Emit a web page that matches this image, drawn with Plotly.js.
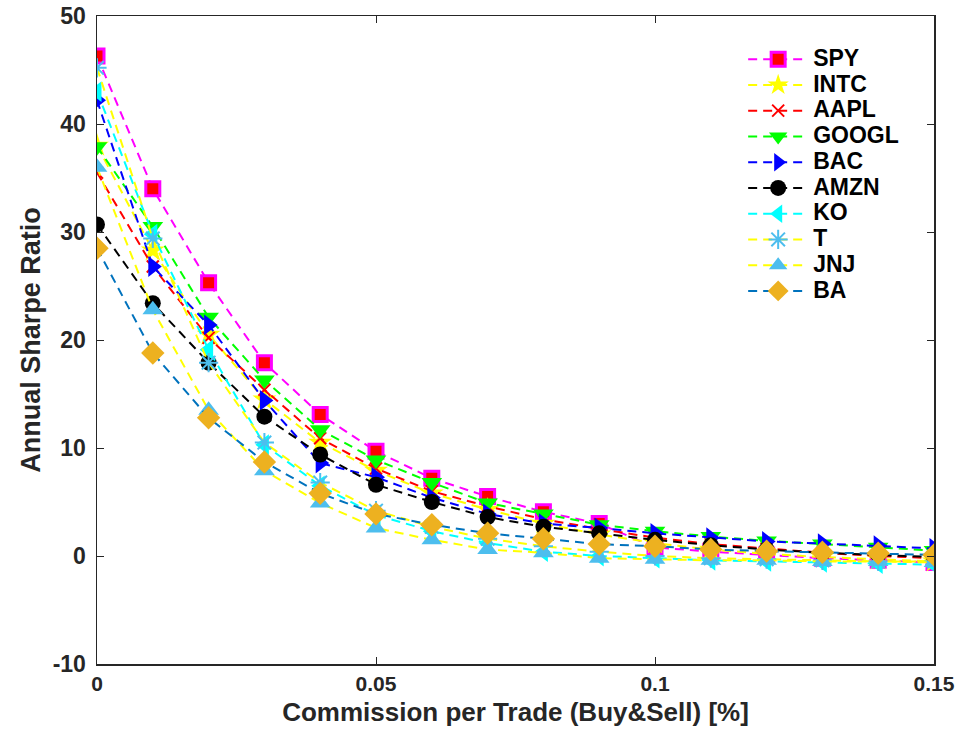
<!DOCTYPE html>
<html>
<head>
<meta charset="utf-8">
<script src="https://cdn.plot.ly/plotly-3.0.1.min.js"></script>
<style>html,body{margin:0;padding:0;background:#fff;}#chart{width:957px;height:737px;}</style>
</head>
<body>
<div id="chart"></div>
<script>
var commission = [0, 0.01, 0.02, 0.03, 0.04, 0.05, 0.06, 0.07, 0.08, 0.09, 0.10, 0.11, 0.12, 0.13, 0.14, 0.15];
var xTickVals = [0, 0.05, 0.1, 0.15];
var xTickText = ['0', '0.05', '0.1', '0.15'];
var yTickVals = [-10, 0, 10, 20, 30, 40, 50];
var yTickText = ['-10', '0', '10', '20', '30', '40', '50'];

var SPY   = [46.3, 34.0, 25.3, 17.9, 13.1, 9.7, 7.2, 5.5, 4.1, 3.0, 0.8, 0.4, 0.1, -0.2, -0.4, -0.6];
var INTC  = [38.0, 28.3, 20.5, 14.5, 10.5, 7.9, 5.8, 4.3, 3.0, 2.0, 1.2, 0.6, 0.2, -0.1, -0.3, -0.5];
var AAPL  = [35.5, 26.8, 20.2, 15.4, 10.9, 8.1, 6.0, 4.6, 3.4, 2.5, 1.7, 1.1, 0.7, 0.3, 0.0, -0.2];
var GOOGL = [37.9, 30.5, 22.1, 16.3, 11.7, 8.9, 6.8, 4.9, 3.9, 2.9, 2.3, 1.8, 1.4, 1.1, 0.8, 0.5];
var BAC   = [42.2, 26.8, 21.4, 14.4, 8.6, 7.3, 5.4, 3.9, 3.0, 2.6, 2.1, 1.7, 1.35, 1.15, 0.95, 0.7];
var AMZN  = [30.7, 23.4, 17.9, 12.9, 9.4, 6.6, 5.0, 3.6, 2.7, 2.1, 1.5, 1.0, 0.6, 0.3, 0.1, -0.1];
var KO    = [43.0, 29.8, 19.1, 10.3, 6.5, 3.8, 2.3, 1.2, 0.4, 0.0, -0.2, -0.4, -0.5, -0.6, -0.7, -0.8];
var T     = [45.2, 29.4, 17.9, 10.5, 6.8, 4.2, 2.7, 1.6, 0.9, 0.4, 0.0, -0.2, -0.3, -0.4, -0.5, -0.5];
var JNJ   = [36.0, 22.8, 13.5, 7.9, 4.9, 2.6, 1.5, 0.6, 0.3, -0.2, -0.3, -0.4, -0.4, -0.5, -0.5, -0.6];
var BA    = [28.5, 18.8, 12.8, 8.7, 5.8, 3.9, 2.9, 2.1, 1.6, 1.1, 0.9, 0.6, 0.45, 0.35, 0.25, 0.1];

var seriesNames = ['SPY', 'INTC', 'AAPL', 'GOOGL', 'BAC', 'AMZN', 'KO', 'T', 'JNJ', 'BA'];
var seriesData = [SPY, INTC, AAPL, GOOGL, BAC, AMZN, KO, T, JNJ, BA];

var styles = [
  {line: '#ff00ff', marker: {symbol: 'square', size: 14, color: '#ff0000', line: {color: '#ff00ff', width: 3}}},
  {line: '#ffff00', marker: {symbol: 'star', size: 18, color: '#ffff00', line: {width: 0}}},
  {line: '#ff0000', marker: {symbol: 'x-thin-open', size: 12, color: '#ff0000', line: {color: '#ff0000', width: 2}}},
  {line: '#00ff00', marker: {symbol: 'triangle-down', size: 18, color: '#00ff00', line: {width: 0}}},
  {line: '#0000ff', marker: {symbol: 'triangle-right', size: 18, color: '#0000ff', line: {width: 0}}},
  {line: '#000000', marker: {symbol: 'circle', size: 16, color: '#000000', line: {width: 0}}},
  {line: '#00ffff', marker: {symbol: 'triangle-left', size: 18, color: '#00ffff', line: {width: 0}}},
  {line: '#ffff00', marker: {symbol: 'asterisk-open', size: 16, color: '#4dbeee', line: {color: '#4dbeee', width: 2}}},
  {line: '#ffff00', marker: {symbol: 'triangle-up', size: 18, color: '#4dbeee', line: {width: 0}}},
  {line: '#0072bd', marker: {symbol: 'diamond', size: 18, color: '#edb120', line: {width: 0}}}
];

var traces = seriesNames.map(function (name, i) {
  return {
    type: 'scatter',
    mode: 'lines+markers',
    name: '<span style="font-size:23px">' + name + '</span>',
    x: commission,
    y: seriesData[i],
    line: {color: styles[i].line, width: 2, dash: '9px,6px'},
    marker: styles[i].marker
  };
});

var axisColor = '#262626';
var layout = {
  width: 957,
  height: 737,
  margin: {l: 97, r: 23, t: 16, b: 73},
  paper_bgcolor: '#ffffff',
  plot_bgcolor: '#ffffff',
  font: {family: 'Liberation Sans, Arial, sans-serif', color: axisColor},
  showlegend: true,
  legend: {
    x: 0.772, y: 0.961, xanchor: 'left', yanchor: 'top',
    bgcolor: 'rgba(255,255,255,0)', borderwidth: 0,
    font: {size: 17.5, color: '#000000', family: 'Liberation Sans, Arial, sans-serif', weight: 'bold'},
    itemwidth: 60,
    tracegroupgap: 0
  },
  xaxis: {
    range: [0, 0.15],
    tickvals: xTickVals,
    ticktext: xTickText,
    ticks: 'inside', ticklen: 7, tickwidth: 1, tickcolor: axisColor,
    showline: true, linecolor: axisColor, linewidth: 1.5, mirror: 'allticks',
    showgrid: false, zeroline: false,
    ticklabeloverflow: 'allow',
    tickfont: {size: 21, weight: 'bold', color: axisColor},
    title: {text: 'Commission per Trade (Buy&Sell) [%]', font: {size: 26, weight: 'bold', color: axisColor}, standoff: 9}
  },
  yaxis: {
    range: [-10, 50],
    tickvals: yTickVals,
    ticktext: yTickText,
    ticks: 'inside', ticklen: 7, tickwidth: 1, tickcolor: axisColor,
    showline: true, linecolor: axisColor, linewidth: 1.5, mirror: 'allticks',
    showgrid: false, zeroline: false,
    ticklabelstandoff: 5,
    tickfont: {size: 23, weight: 'bold', color: axisColor},
    title: {text: 'Annual Sharpe Ratio', font: {size: 27, weight: 'bold', color: axisColor}, standoff: 4}
  }
};

Plotly.newPlot('chart', traces, layout, {displayModeBar: false, staticPlot: true});
</script>
</body>
</html>
